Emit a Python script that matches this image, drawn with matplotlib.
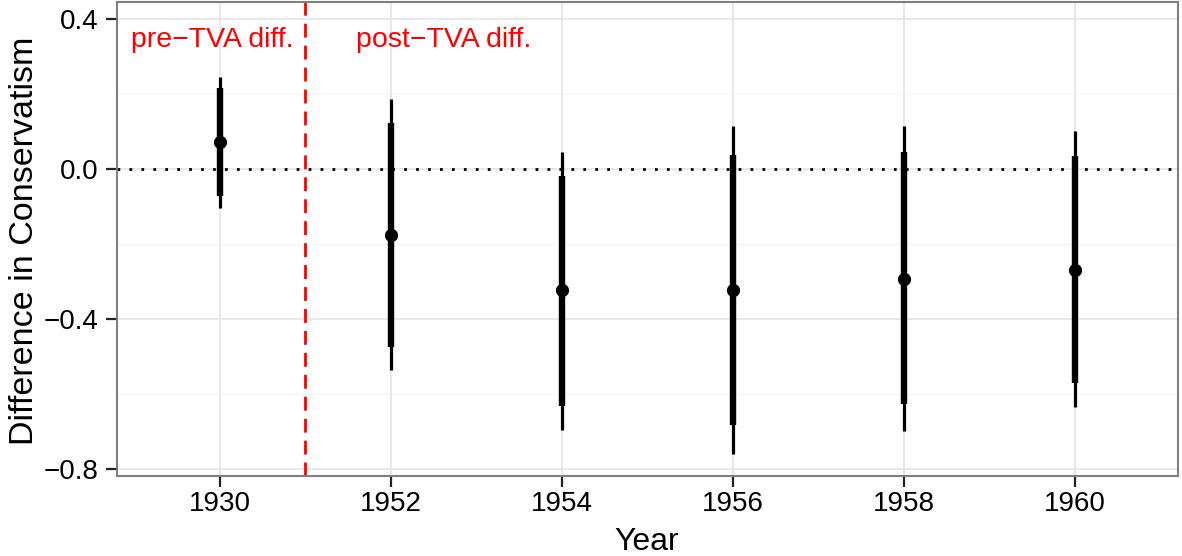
import matplotlib.pyplot as plt
import numpy as np

plt.rcParams['font.family'] = ['Liberation Sans', 'DejaVu Sans']

# data
years = ["1930", "1952", "1954", "1956", "1958", "1960"]
estimate = [0.072, -0.176, -0.324, -0.324, -0.293, -0.269]
ci90_low = [-0.072, -0.474, -0.632, -0.684, -0.627, -0.572]
ci90_high = [0.216, 0.122, -0.020, 0.037, 0.044, 0.035]
ci95_low = [-0.104, -0.536, -0.696, -0.760, -0.698, -0.634]
ci95_high = [0.245, 0.186, 0.046, 0.113, 0.113, 0.100]
yticks = [0.4, 0.0, -0.4, -0.8]
ytick_labels = ["0.4", "0.0", "\u22120.4", "\u22120.8"]

x = np.arange(1, len(years) + 1)

fig = plt.figure(figsize=(11.82, 5.56), dpi=100)
ax = fig.add_axes([0.099, 0.144, 0.8976, 0.8524])

# grid like theme_bw
for v in [0.2, -0.2, -0.6]:
    ax.axhline(v, color="#F5F5F5", lw=1.0, zorder=0)
for v in yticks:
    ax.axhline(v, color="#E5E5E5", lw=1.2, zorder=0)
for xi in x:
    ax.axvline(xi, color="#E5E5E5", lw=1.2, zorder=0)

# reference lines
ax.axhline(0, color="black", lw=2.0, linestyle=(0, (1.0, 3.3)), zorder=1)
ax.axvline(1.5, color="red", lw=2.0, linestyle=(0, (5, 2.9)), zorder=1)

# intervals
ax.vlines(x, ci95_low, ci95_high, color="black", lw=2.3, zorder=2)
ax.vlines(x, ci90_low, ci90_high, color="black", lw=4.6, zorder=3)
ax.plot(x, estimate, "o", color="black", ms=8.5, zorder=4)

ax.text(0.959, 0.325, "pre\u2212TVA diff.", color="red", fontsize=20.5,
        ha="center", va="baseline")
ax.text(2.307, 0.325, "post\u2212TVA diff.", color="red", fontsize=20.5,
        ha="center", va="baseline")

ax.set_xlim(0.4, 6.6)
ax.set_ylim(-0.819, 0.445)
ax.set_xticks(x)
ax.set_xticklabels(years)
ax.set_yticks(yticks)
ax.set_yticklabels(ytick_labels)
ax.tick_params(axis="both", labelsize=20, length=8, width=1.6, color="#222222")
ax.tick_params(axis="x", pad=3)
ax.tick_params(axis="y", pad=5.5)

for s in ax.spines.values():
    s.set_color("#7F7F7F")
    s.set_linewidth(1.5)

ax.set_xlabel("Year", fontsize=23)
ax.xaxis.set_label_coords(0.499, -0.108)
ax.set_ylabel("Difference in Conservatism", fontsize=24.5)
ax.yaxis.set_label_coords(-0.0726, 0.497)

plt.savefig("out.png", dpi=100)
